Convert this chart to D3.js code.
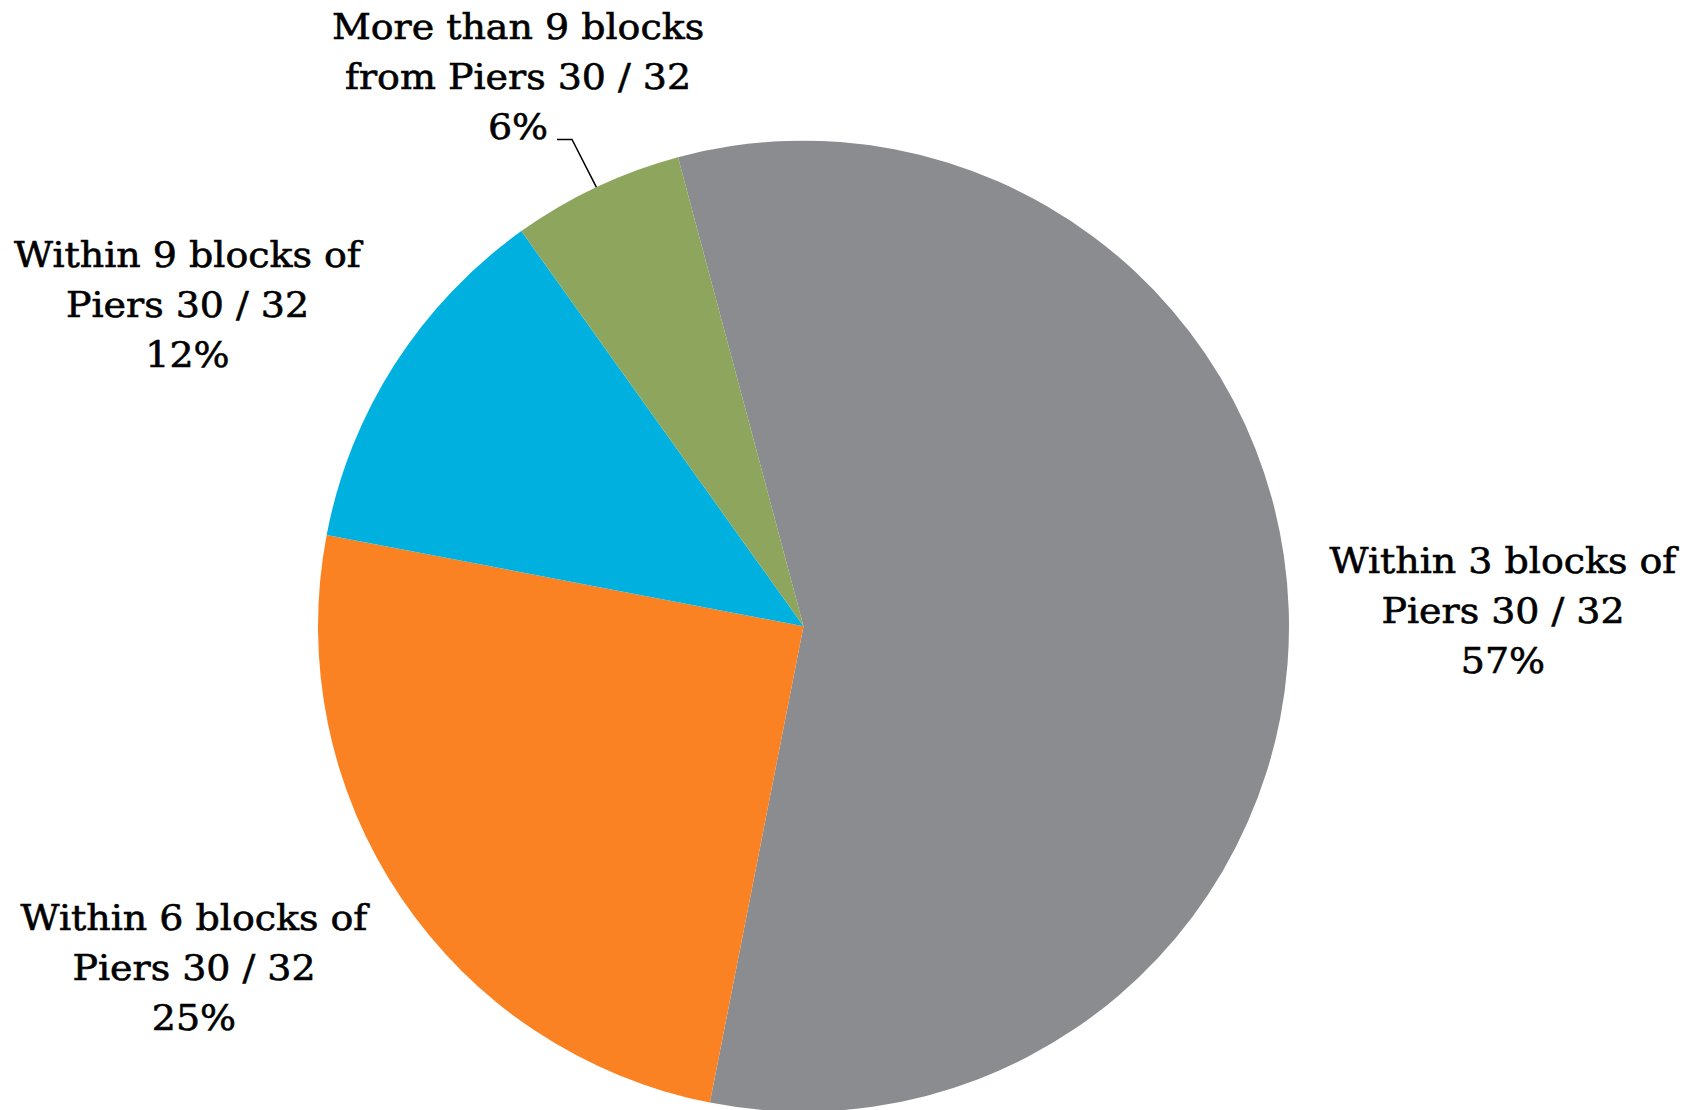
<!DOCTYPE html>
<html>
<head>
<meta charset="utf-8">
<script src="https://cdn.jsdelivr.net/npm/d3@7"></script>
<style>
html,body{margin:0;padding:0;background:#fff;overflow:hidden;}
svg{display:block;}
text{font-family:"DejaVu Serif",serif;fill:#000;stroke:#000;stroke-width:0.6px;}
</style>
</head>
<body>
<svg id="chart" width="1699" height="1110"></svg>
<script>
const categories = ["Within 3 blocks of Piers 30 / 32","Within 6 blocks of Piers 30 / 32","Within 9 blocks of Piers 30 / 32","More than 9 blocks from Piers 30 / 32"];
const values = [57.25, 24.92, 12.12, 5.71];
const percentLabels = ["57%","25%","12%","6%"];
const labelLines = [
  ["Within 3 blocks of","Piers 30 / 32"],
  ["Within 6 blocks of","Piers 30 / 32"],
  ["Within 9 blocks of","Piers 30 / 32"],
  ["More than 9 blocks","from Piers 30 / 32"]
];
const colors = ["#8b8c90","#fa8223","#00b0df","#8ea55d"];

const svg = d3.select("#chart");
const cx = 803.5, cy = 626.2, R = 485.5;
const startDeg = -14.98;
const g = svg.append("g").attr("transform",`translate(${cx},${cy})`);

const pie = d3.pie().sort(null).value(d=>d)
  .startAngle(startDeg*Math.PI/180).endAngle(startDeg*Math.PI/180+2*Math.PI);
const arcs = pie(values);
const arc = d3.arc().innerRadius(0).outerRadius(R);
g.selectAll("path.slice").data(arcs).enter().append("path")
  .attr("class","slice").attr("d",arc).attr("fill",(d,i)=>colors[i]);

// label positions (center x, first baseline y)
const labelPos = [[1503,573],[194,930],[187.5,267],[518,38.5]];
const lineH = 50.2;
const fontSize = 36;
const targetW = 347; // width of "Within 3 blocks of"

const probe = svg.append("text").attr("font-size",fontSize).text("Within 3 blocks of");
const w = probe.node().getComputedTextLength();
probe.remove();
const sx = targetW / w;

labelLines.forEach((lines,i)=>{
  const [lx,ly] = labelPos[i];
  const lg = svg.append("g").attr("transform",`translate(${lx},${ly}) scale(${sx},1)`);
  const all = lines.concat([percentLabels[i]]);
  all.forEach((t,j)=>{
    lg.append("text").attr("x",0).attr("y",j*lineH)
      .attr("text-anchor","middle").attr("font-size",fontSize).text(t);
  });
});

// leader line for the small slice
const small = arcs[3];
const mid = (small.startAngle+small.endAngle)/2;
const px = cx + R*Math.sin(mid), py = cy - R*Math.cos(mid);
const ly = 139.5;
svg.append("path")
  .attr("d",`M${557},${ly}L${572},${ly}L${px},${py}`)
  .attr("fill","none").attr("stroke","#000").attr("stroke-width",1.5);
</script>
</body>
</html>
